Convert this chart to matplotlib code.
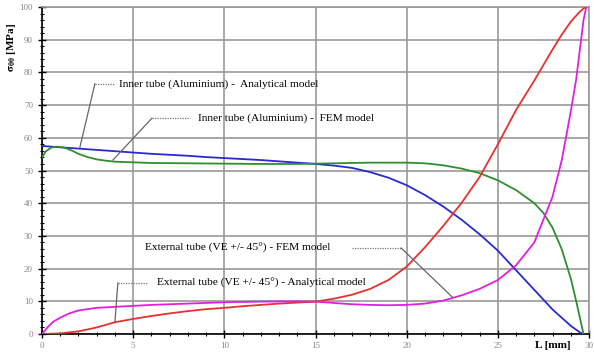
import numpy as np
import matplotlib
matplotlib.use("Agg")
import matplotlib.pyplot as plt
from matplotlib.ticker import MultipleLocator

plt.rcParams['font.family'] = ['Liberation Serif', 'DejaVu Serif']
plt.rcParams['mathtext.fontset'] = 'stix'

# inner tube (aluminium) - analytical
blue_x = [0, 1, 2, 3, 4, 5, 6, 7, 8, 9, 10, 11, 12, 13, 14, 15, 16, 17, 18, 19, 20,
          21, 22, 23, 24, 25, 26, 27, 28, 29, 29.5, 29.7]
blue_y = [57.5, 57.1, 56.7, 56.3, 55.9, 55.5, 55.1, 54.8, 54.5, 54.1, 53.8, 53.5, 53.2,
          52.8, 52.4, 52.0, 51.5, 50.8, 49.5, 47.8, 45.5, 42.5, 39, 35, 30.5, 25.5,
          19.5, 13.5, 7.5, 2.5, 0.5, 0]

# inner tube (aluminium) - FEM
green_x = [0, 0.2, 0.5, 0.8, 1.2, 1.6, 2, 2.5, 3, 3.5, 4, 5, 6, 8, 10, 12, 14, 16, 18,
           20, 21, 22, 23, 24, 25, 26, 27, 27.5, 28, 28.5, 29, 29.3, 29.5, 29.7]
green_y = [54, 55.8, 57, 57.3, 57, 56.2, 55.1, 54.1, 53.4, 53.0, 52.7, 52.5, 52.3, 52.2,
           52.1, 52.0, 52.0, 52.2, 52.4, 52.4, 52.2, 51.6, 50.6, 49.2, 47, 44, 40, 37,
           32.5, 26, 17, 10, 5, 0]

# external tube (VE +/- 45) - FEM
red_x = [0, 1, 2, 3, 4, 5, 6, 7, 8, 9, 10, 11, 12, 13, 14, 15, 16, 17, 18, 19, 20, 21,
         22, 23, 24, 25, 26, 27, 28, 28.5, 29, 29.5, 29.8]
red_y = [0, 0.2, 0.8, 2, 3.6, 4.6, 5.5, 6.3, 7, 7.6, 8.0, 8.5, 8.9, 9.3, 9.6, 9.9, 10.8,
         12, 13.8, 16.5, 20.6, 26.5, 33, 40, 48, 58, 68.5, 77.5, 87, 91.5, 95.5, 98.6, 100]

# external tube (VE +/- 45) - analytical
pink_x = [0, 0.3, 0.6, 1, 1.5, 2, 3, 4, 5, 6, 8, 10, 12, 14, 15, 16, 17, 18, 19, 20, 21,
          22, 23, 24, 25, 26, 27, 28, 28.5, 29, 29.3, 29.5, 29.7, 29.85]
pink_y = [0, 2, 3.7, 5, 6.3, 7.2, 8, 8.3, 8.6, 8.9, 9.3, 9.7, 9.9, 10, 9.9, 9.5, 9.1,
          8.9, 8.8, 8.9, 9.3, 10.2, 11.8, 13.8, 16.5, 21, 28, 42, 53, 68, 78, 87, 96, 100]

fig = plt.figure(figsize=(5.94, 3.58), dpi=100)
ax = fig.add_axes([42 / 594, 24 / 358, 547 / 594, 327 / 358])

ax.plot(blue_x, blue_y, color='#2a2ad2', lw=1.3, zorder=3)
ax.plot(green_x, green_y, color='#2f8f2f', lw=1.3, zorder=3)
ax.plot(red_x, red_y, color='#e83030', lw=1.3, zorder=3)
ax.plot(pink_x, pink_y, color='#e020e0', lw=1.3, zorder=3)

ax.set_xlim(0, 30)
ax.set_ylim(0, 100)
ax.xaxis.set_major_locator(MultipleLocator(5))
ax.xaxis.set_minor_locator(MultipleLocator(1))
ax.yaxis.set_major_locator(MultipleLocator(10))
ax.yaxis.set_minor_locator(MultipleLocator(2))
ax.grid(True, which='major', color='#999999', lw=1.2, zorder=0)
for s in ['top', 'right']:
    ax.spines[s].set_color('#999999')
    ax.spines[s].set_linewidth(1.2)
for s in ['left', 'bottom']:
    ax.spines[s].set_color('black')
    ax.spines[s].set_linewidth(1.2)
ax.tick_params(which='major', direction='inout', length=6, width=1, labelsize=6.5,
               labelcolor='#888888', top=False, right=False)
ax.tick_params(which='minor', direction='inout', length=3, width=0.8,
               top=False, right=False)
ax.tick_params(axis='x', pad=3)

fig.text(12 / 594, 1 - 47 / 358, r'$\mathbf{\sigma_{\theta\theta}}$ [MPa]', rotation=90,
         ha='center', va='center', fontsize=8, fontweight='bold')
fig.text(553 / 594, 1 - 346 / 358, 'L [mm]', ha='center', va='center',
         fontsize=8, fontweight='bold')

# leader lines: dotted horizontal + solid diagonal
labels = [
    ('Inner tube (Aluminium) -  Analytical model', (2.9, 76.5), (3.95, 76.5), (2.07, 56.9), (4.2, 76.5)),
    ('Inner tube (Aluminium) -  FEM model', (6.03, 66), (8.12, 66), (3.89, 53.2), (8.55, 66)),
    ('External tube (VE +/- 45°) - FEM model', (17.0, 26.3), (19.7, 26.3), (22.5, 11.3), (5.64, 26.3)),
    ('External tube (VE +/- 45°) - Analytical model', (4.16, 15.6), (5.8, 15.6), (4.0, 3.7), (6.3, 15.6)),
]
for i, (txt, p0, p1, tip, tpos) in enumerate(labels):
    ax.plot([p0[0], p1[0]], [p0[1], p1[1]], color='#777777', lw=0.9, ls=(0, (1, 1)), zorder=4)
    start = p1 if i == 2 else p0
    ax.plot([start[0], tip[0]], [start[1], tip[1]], color='#666666', lw=0.9, zorder=4)
    ax.text(tpos[0], tpos[1], txt, ha='left', va='center', fontsize=8.2, zorder=5)

fig.savefig('out.png', dpi=100)
